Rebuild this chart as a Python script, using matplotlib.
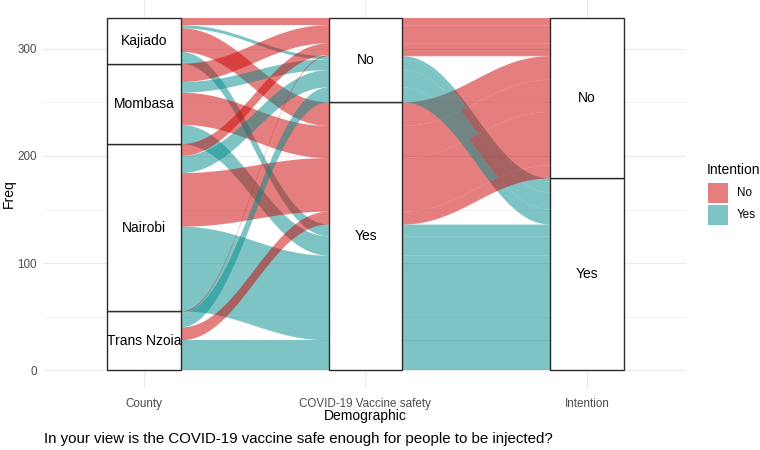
import numpy as np
import matplotlib
matplotlib.use('Agg')
import matplotlib.pyplot as plt
from matplotlib.patches import Rectangle, Polygon

plt.rcParams['font.family'] = ['Liberation Sans', 'DejaVu Sans']

# survey counts, one row per County x Safety x Intention alluvium
county = ['Kajiado'] * 4 + ['Mombasa'] * 4 + ['Nairobi'] * 4 + ['Trans Nzoia'] * 4
safety = ['No', 'No', 'Yes', 'Yes'] * 4
intention = ['No', 'Yes', 'No', 'Yes'] * 4
freq = [7, 3, 22, 11,
        17, 10, 30, 18,
        11, 16, 50, 79,
        1, 14, 12, 28]

county_levels = ['Kajiado', 'Mombasa', 'Nairobi', 'Trans Nzoia']
yn_levels = ['No', 'Yes']
axis_names = ['County', 'COVID-19 Vaccine safety', 'Intention']
fill_cols = {'No': '#CD0000', 'Yes': '#008B8B'}

W, H = 760, 450
fig = plt.figure(figsize=(W / 100, H / 100), dpi=100)


def fx(px):
    return px / W


def fy(py):
    return 1 - py / H


ax = fig.add_axes([fx(43), fy(388), fx(686) - fx(43), fy(0) - fy(388)])

f = np.array(freq, dtype=float)
n = len(f)
ci = np.array([county_levels.index(c) for c in county])
si = np.array([yn_levels.index(s) for s in safety])
ii = np.array([yn_levels.index(v) for v in intention])
total = f.sum()


def lode_bottoms(k0, k1, k2):
    # first level sits on top, so stack from the bottom in reverse order
    order = np.lexsort((-k2, -k1, -k0))
    ymin = np.zeros(n)
    ymin[order] = np.concatenate([[0], np.cumsum(f[order])[:-1]])
    return ymin


y_c = lode_bottoms(ci, si, ii)
y_s = lode_bottoms(si, ii, ci)
y_i = lode_bottoms(ii, si, ci)

w = 1 / 6
kk = 0.4
tt = np.linspace(0, 1, 400)
bx = 3 * (1 - tt) ** 2 * tt * kk + 3 * (1 - tt) * tt ** 2 * (1 - kk) + tt ** 3
by = 3 * (1 - tt) * tt ** 2 + tt ** 3
xs_unit = np.linspace(0, 1, 80)
ys_unit = np.interp(xs_unit, bx, by)


def edge(ya, yb, yc):
    xx = [np.array([1 - w, 1 + w]), 1 + w + xs_unit * (1 - 2 * w),
          np.array([2 - w, 2 + w]), 2 + w + xs_unit * (1 - 2 * w),
          np.array([3 - w, 3 + w])]
    yy = [np.array([ya, ya]), ya + ys_unit * (yb - ya),
          np.array([yb, yb]), yb + ys_unit * (yc - yb),
          np.array([yc, yc])]
    return np.concatenate(xx), np.concatenate(yy)


for j in range(n):
    if f[j] <= 0:
        continue
    xb, ybot = edge(y_c[j], y_s[j], y_i[j])
    xt, ytop = edge(y_c[j] + f[j], y_s[j] + f[j], y_i[j] + f[j])
    pts = np.column_stack([np.concatenate([xb, xt[::-1]]),
                           np.concatenate([ybot, ytop[::-1]])])
    ax.add_patch(Polygon(pts, closed=True, facecolor=fill_cols[intention[j]],
                         edgecolor='none', alpha=0.5, zorder=2))

# strata
strata = [(1, county_levels, ci), (2, yn_levels, si), (3, yn_levels, ii)]
for xpos, levels, idx in strata:
    y0 = 0
    for li in range(len(levels) - 1, -1, -1):
        h = f[idx == li].sum()
        ax.add_patch(Rectangle((xpos - w, y0), 2 * w, h, facecolor='white',
                               edgecolor='#2B2B2B', linewidth=1.0, zorder=3))
        ax.text(xpos, y0 + h / 2, levels[li], ha='center', va='center',
                fontsize=10, color='black', zorder=4)
        y0 += h

ax.set_xlim(0.544, 3.447)
ax.set_ylim(-0.05 * total, 1.05 * total)
ax.set_yticks([0, 100, 200, 300])
ax.set_yticks([50, 150, 250], minor=True)
ax.set_xticks([1, 2, 3])
ax.set_xticklabels(axis_names)
ax.grid(which='major', color='#EBEBEB', linewidth=0.9, zorder=0)
ax.grid(which='minor', axis='y', color='#EBEBEB', linewidth=0.5, zorder=0)
ax.set_axisbelow(True)
ax.tick_params(which='both', length=0)
ax.tick_params(axis='y', pad=4.5, labelsize=8.4, labelcolor='#4D4D4D')
ax.tick_params(axis='x', pad=7, labelsize=8.4, labelcolor='#4D4D4D')
for sp in ax.spines.values():
    sp.set_visible(False)

fig.text(fx(365), fy(416), 'Demographic', ha='center', va='center', fontsize=10)
fig.text(fx(9), fy(194), 'Freq', ha='center', va='center', rotation=90, fontsize=10)
fig.text(fx(44), fy(439), 'In your view is the COVID-19 vaccine safe enough for people to be injected?',
         ha='left', va='center', fontsize=10.8)

# legend
fig.text(fx(707), fy(170), 'Intention', ha='left', va='center', fontsize=10)
for k, lab in enumerate(yn_levels):
    top = 183 + k * 22
    fig.patches.append(Rectangle((fx(708), fy(top + 20)), fx(20), 20 / H,
                                 facecolor=fill_cols[lab], alpha=0.5,
                                 edgecolor='none', transform=fig.transFigure))
    fig.text(fx(737), fy(top + 10), lab, ha='left', va='center', fontsize=8.4)

fig.savefig('out.png', dpi=100)
